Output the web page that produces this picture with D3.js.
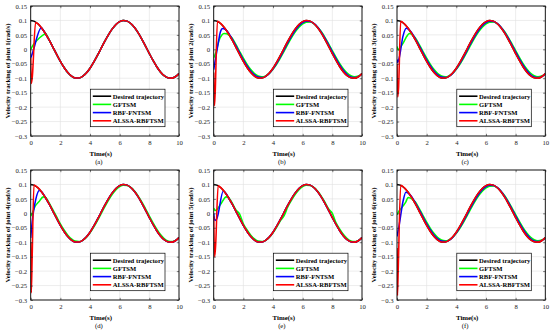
<!DOCTYPE html>
<html><head><meta charset="utf-8">
<script src="https://cdn.jsdelivr.net/npm/d3@7"></script>
<style>body{margin:0;background:#fff}svg{display:block}</style></head>
<body><svg id="c" width="550" height="333"></svg>
<script>
// ---------- data ----------
const xTicks = [0, 2, 4, 6, 8, 10];
const yTicks = [0.15, 0.1, 0.05, 0, -0.05, -0.1, -0.15, -0.2, -0.25, -0.3];
const yTickLabels = ["0.15","0.1","0.05","0","\u22120.05","\u22120.1","\u22120.15","\u22120.2","\u22120.25","\u22120.3"];
const seriesNames = ["Desired trajectory", "GFTSM", "RBF-FNTSM", "ALSSA-RBFTSM"];
const panelLetters = ["a","b","c","d","e","f"];
const jointNumbers = [1,2,3,4,5,6];

const timeGrid = [0,0.25,0.5,0.75,1,1.25,1.5,1.75,2,2.25,2.5,2.75,3,3.25,3.5,3.75,4,4.25,4.5,4.75,5,
  5.25,5.5,5.75,6,6.25,6.5,6.75,7,7.25,7.5,7.75,8,8.25,8.5,8.75,9,9.25,9.5,9.75,10];
const desired = [0.1,0.0969,0.0878,0.0732,0.054,0.0315,0.0071,-0.0178,-0.0416,-0.0628,-0.0801,-0.0924,
  -0.099,-0.0994,-0.0936,-0.0821,-0.0654,-0.0446,-0.0211,0.0038,0.0284,0.0512,0.0709,0.0861,0.096,
  0.0999,0.0977,0.0893,0.0754,0.0569,0.0347,0.0104,-0.0146,-0.0386,-0.0602,-0.0781,-0.0911,-0.0985,
  -0.0997,-0.0949,-0.0839];

// tails (t = 1.0 ... 10 step 0.25)
const tailTime = timeGrid.slice(4);
const desiredTail = desired.slice(4);
const mildTail = [0.057,0.0355,0.0118,-0.0126,-0.0363,-0.0577,-0.0755,-0.0886,-0.0962,-0.0978,-0.0934,
  -0.0831,-0.0677,-0.048,-0.0254,-0.0012,0.0231,0.0459,0.0659,0.0818,0.0926,0.0977,0.0966,0.0896,
  0.077,0.0596,0.0386,0.015,-0.0094,-0.0332,-0.0549,-0.0734,-0.0872,-0.0955,-0.098,-0.0943,-0.0848];
const lagTail = [0.0591,0.0388,0.0162,-0.0075,-0.0307,-0.052,-0.0701,-0.0838,-0.0922,-0.095,-0.0918,
  -0.083,-0.069,-0.0507,-0.0292,-0.0059,0.0177,0.0402,0.0603,0.0766,0.0881,0.0942,0.0944,0.0887,
  0.0775,0.0615,0.0417,0.0192,-0.0044,-0.0277,-0.0493,-0.0679,-0.082,-0.0914,-0.095,-0.0926,-0.0845];
const kinkTail = [0.057,0.0355,0.0118,-0.003,-0.0363,-0.0577,-0.0755,-0.0886,-0.0962,-0.0978,-0.0934,
  -0.0831,-0.0677,-0.048,-0.0254,-0.008,0.0231,0.0459,0.0659,0.0818,0.0926,0.0977,0.0966,0.0896,
  0.077,0.0596,0.0386,0.015,0.0,-0.0332,-0.0549,-0.0734,-0.0872,-0.0955,-0.098,-0.0943,-0.0848];

// start-up transients [t, value]
const greenA = [[0,0],[0.2,0.018],[0.4,0.03],[0.6,0.04],[0.95,0.053]];
const blueA  = [[0,-0.03],[0.1,-0.016],[0.72,0.075],[0.85,0.066]];
const redA   = [[0,-0.03],[0.04,-0.118],[0.1,-0.1],[0.33,0.093],[0.5,0.088],[0.75,0.073]];

const greenB = [[0,-0.03],[0.15,-0.01],[0.35,0.03],[0.55,0.05],[0.7,0.055],[0.85,0.054],[1.0,0.05]];
const blueB  = [[0,-0.07],[0.1,-0.04],[0.3,0.02],[0.45,0.06],[0.6,0.072],[0.8,0.068]];
const redB   = [[0,-0.08],[0.05,-0.195],[0.1,-0.15],[0.25,0.097],[0.5,0.088],[0.75,0.073]];

const greenC = [[0,0.01],[0.1,-0.002],[0.2,0.005],[0.45,0.025],[0.6,0.04],[0.85,0.055],[1.0,0.052]];
const blueC  = [[0,-0.035],[0.05,-0.045],[0.15,-0.03],[0.4,0.045],[0.63,0.073],[0.8,0.068]];
const redC   = [[0,-0.05],[0.05,-0.165],[0.1,-0.14],[0.25,0.097],[0.5,0.088],[0.75,0.073]];

const greenD = [[0,-0.01],[0.1,0],[0.3,0.025],[0.55,0.04],[0.85,0.057],[1.0,0.055]];
const blueD  = [[0,-0.085],[0.1,-0.03],[0.35,0.05],[0.58,0.079],[0.75,0.074]];
const redD   = [[0,-0.1],[0.04,-0.275],[0.1,-0.15],[0.22,0.098],[0.5,0.088],[0.75,0.073]];

const greenE = [[0,0.018],[0.1,0.01],[0.2,0.012],[0.45,0.03],[0.85,0.057],[1.0,0.054]];
const blueE  = [[0,0],[0.08,-0.025],[0.2,-0.02],[0.65,0.077],[0.8,0.07]];
const redE   = [[0,-0.01],[0.06,-0.15],[0.12,-0.12],[0.3,0.095],[0.5,0.088],[0.75,0.073]];

const greenF = [[0,-0.005],[0.1,0.005],[0.4,0.025],[0.6,0.04],[0.75,0.055],[1.0,0.05]];
const blueF  = [[0,-0.08],[0.15,-0.04],[0.4,0.04],[0.6,0.073],[0.8,0.068]];
const redF   = [[0,-0.12],[0.03,-0.285],[0.08,-0.2],[0.25,0.097],[0.5,0.088],[0.75,0.073]];

const colors = ["#000000", "#00ff00", "#0000ff", "#ff0000"];

// ---------- build ----------
function join(trans, tail) {
  const last = trans[trans.length - 1][0];
  const pts = trans.slice();
  tailTime.forEach((t, i) => { if (t > last + 1e-9) pts.push([t, tail[i]]); });
  return pts;
}
const desiredPts = timeGrid.map((t, i) => [t, desired[i]]);
const panels = [
  [join(greenA, desiredTail), join(blueA, desiredTail), join(redA, desiredTail)],
  [join(greenB, lagTail), join(blueB, mildTail), join(redB, desiredTail)],
  [join(greenC, lagTail), join(blueC, mildTail), join(redC, desiredTail)],
  [join(greenD, mildTail), join(blueD, desiredTail), join(redD, desiredTail)],
  [join(greenE, kinkTail), join(blueE, desiredTail), join(redE, desiredTail)],
  [join(greenF, lagTail), join(blueF, mildTail), join(redF, desiredTail)]
];

const svg = d3.select("#c");
const W = 148.3, H = 130;
const colLeft = [30.7, 213.7, 397];
const rowTop = [6, 170];
const serif = "'Liberation Serif','Times New Roman',serif";

panels.forEach((series, p) => {
  const left = colLeft[p % 3], top = rowTop[Math.floor(p / 3)];
  const x = d3.scaleLinear().domain([0, 10]).range([left, left + W]);
  const y = d3.scaleLinear().domain([-0.3, 0.15]).range([top + H, top]);
  const g = svg.append("g");

  // grid
  g.append("g").selectAll("line").data(xTicks).join("line")
    .attr("x1", d => x(d)).attr("x2", d => x(d)).attr("y1", top).attr("y2", top + H)
    .attr("stroke", "#e0e0e0").attr("stroke-width", 0.6);
  g.append("g").selectAll("line").data(yTicks).join("line")
    .attr("y1", d => y(d)).attr("y2", d => y(d)).attr("x1", left).attr("x2", left + W)
    .attr("stroke", "#e0e0e0").attr("stroke-width", 0.6);

  // lines
  const line = d3.line().x(d => x(d[0])).y(d => y(d[1])).curve(d3.curveMonotoneX);
  const clipId = "clip" + p;
  svg.append("clipPath").attr("id", clipId).append("rect")
    .attr("x", left).attr("y", top).attr("width", W).attr("height", H);
  const lg = g.append("g").attr("clip-path", `url(#${clipId})`);
  [desiredPts, series[0], series[1], series[2]].forEach((pts, k) => {
    lg.append("path").attr("d", line(pts)).attr("fill", "none")
      .attr("stroke", colors[k]).attr("stroke-width", 1.55).attr("stroke-linejoin", "round");
  });

  // axes
  const styleAxis = sel => {
    sel.select(".domain").remove();
    sel.selectAll(".tick line").attr("stroke", "#262626").attr("stroke-width", 0.6);
    sel.selectAll("text").attr("font-family", serif).attr("font-size", 6.7).attr("fill", "#262626");
  };
  g.append("g").attr("transform", `translate(0,${top + H})`)
    .call(d3.axisBottom(x).tickValues(xTicks).tickSizeInner(-2.2).tickSizeOuter(0).tickPadding(4.5).tickFormat(d3.format("d")))
    .call(styleAxis);
  g.append("g").attr("transform", `translate(0,${top})`)
    .call(d3.axisTop(x).tickValues(xTicks).tickSizeInner(-2.2).tickSizeOuter(0).tickFormat(""))
    .call(styleAxis);
  g.append("g").attr("transform", `translate(${left},0)`)
    .call(d3.axisLeft(y).tickValues(yTicks).tickSizeInner(-2.2).tickSizeOuter(0).tickPadding(3.5)
      .tickFormat((d, i) => yTickLabels[i]))
    .call(styleAxis);
  g.append("g").attr("transform", `translate(${left + W},0)`)
    .call(d3.axisRight(y).tickValues(yTicks).tickSizeInner(-2.2).tickSizeOuter(0).tickFormat(""))
    .call(styleAxis);

  // frame
  g.append("rect").attr("x", left).attr("y", top).attr("width", W).attr("height", H)
    .attr("fill", "none").attr("stroke", "#000").attr("stroke-width", 0.9);

  // labels
  g.append("text").attr("transform", `translate(${left - 23.5},${top + H / 2}) rotate(-90)`)
    .attr("text-anchor", "middle").attr("dy", "0.35em")
    .attr("font-family", serif).attr("font-weight", "bold").attr("font-size", 6.7).attr("fill", "#000")
    .text(`Velocity tracking of joint ${jointNumbers[p]}(rad/s)`);
  g.append("text").attr("x", left + W / 2 - 4).attr("y", top + H + 19.5)
    .attr("text-anchor", "middle").attr("font-family", serif).attr("font-weight", "bold")
    .attr("font-size", 6.9).attr("fill", "#000").text("Time(s)");
  g.append("text").attr("x", left + W / 2 - 6).attr("y", top + H + 28)
    .attr("text-anchor", "middle").attr("font-family", serif)
    .attr("font-size", 6.7).attr("fill", "#000").text(`(${panelLetters[p]})`);

  // legend
  const lw = 74.5, lh = 37.5;
  const lx = left + W - 14 - lw, ly = top + H - 9.3 - lh;
  const leg = g.append("g");
  leg.append("rect").attr("x", lx).attr("y", ly).attr("width", lw).attr("height", lh)
    .attr("fill", "#fff").attr("stroke", "#000").attr("stroke-width", 0.7);
  seriesNames.forEach((name, k) => {
    const yy = ly + 7 + k * 8.2;
    leg.append("line").attr("x1", lx + 2.3).attr("x2", lx + 20.7).attr("y1", yy).attr("y2", yy)
      .attr("stroke", colors[k]).attr("stroke-width", 1.6);
    leg.append("text").attr("x", lx + 22.3).attr("y", yy).attr("dy", "0.35em")
      .attr("font-family", serif).attr("font-weight", "bold").attr("font-size", 6.6)
      .attr("fill", "#000").text(name);
  });
});
</script>
</body></html>
